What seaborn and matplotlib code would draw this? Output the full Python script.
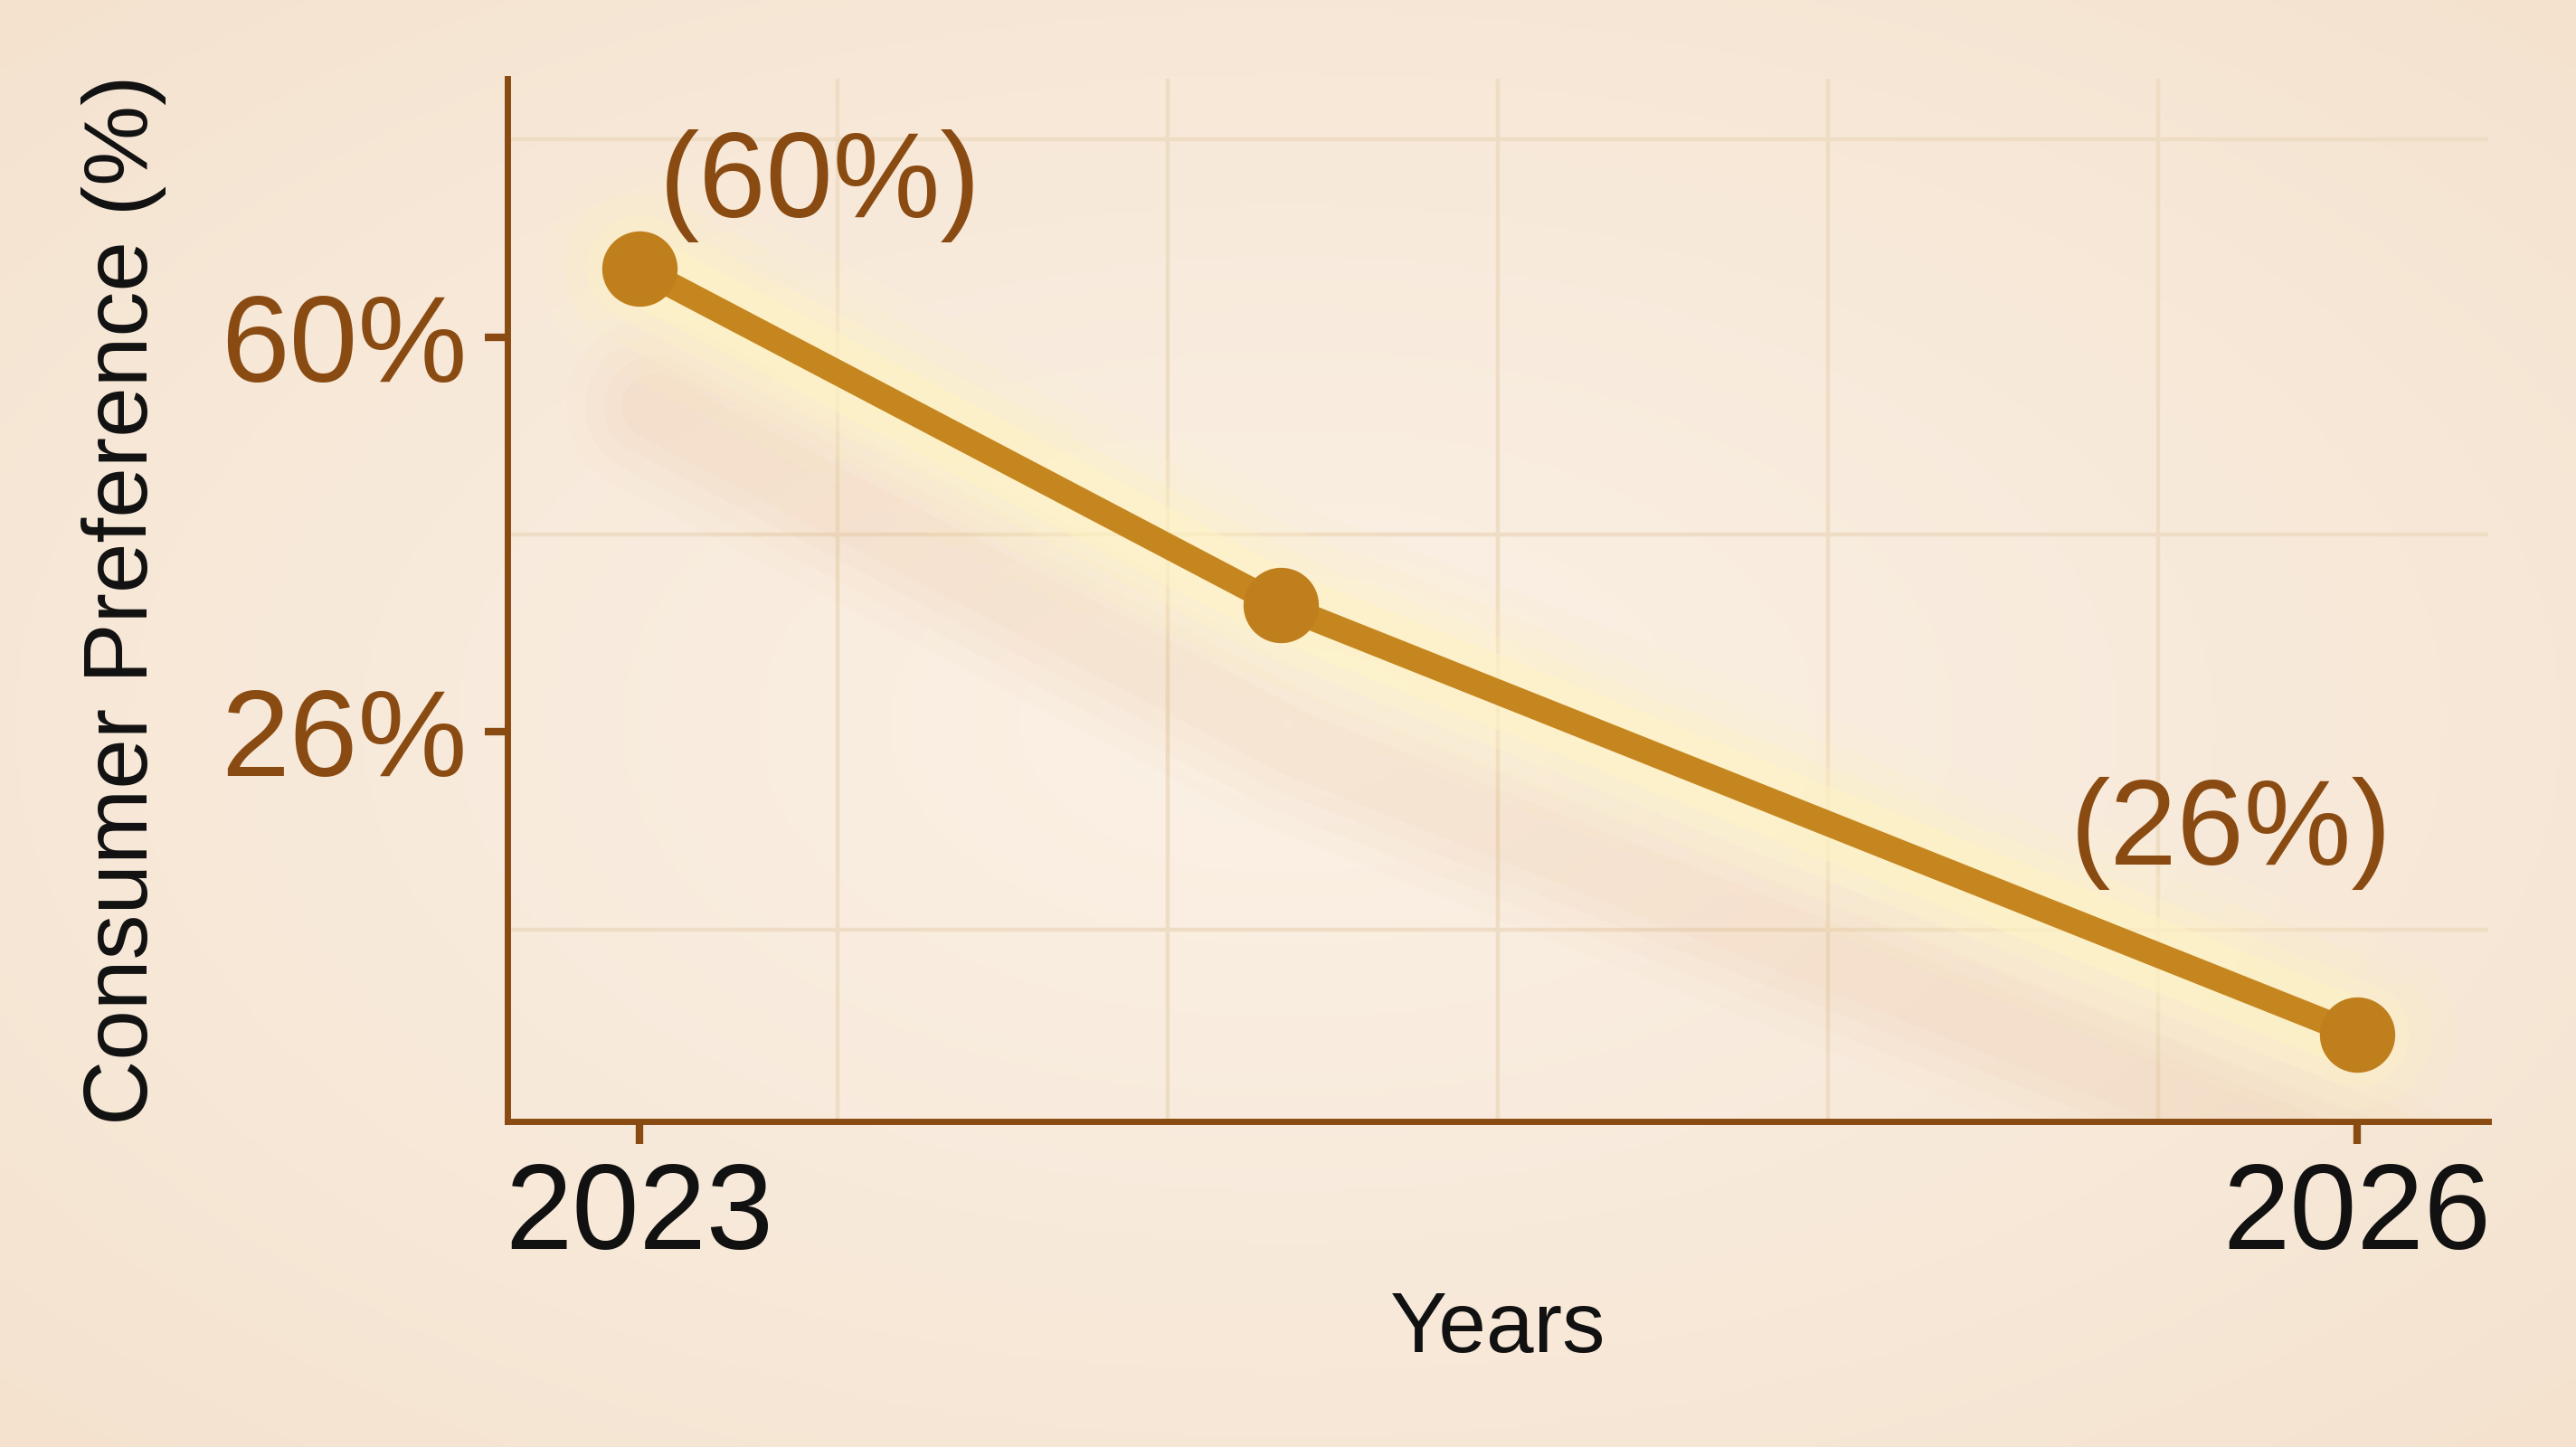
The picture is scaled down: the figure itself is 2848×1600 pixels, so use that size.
import numpy as np
import matplotlib
matplotlib.use("Agg")
import matplotlib.pyplot as plt
from matplotlib import transforms
from matplotlib.colors import LinearSegmentedColormap
import seaborn as sns

# values read against the drawn axis
years = [2023, 2024.12, 2026]
preference = [65.9, 36.9, 0.0]
point_labels = ["(60%)", "", "(26%)"]

ytick_values = [26, 60]
ytick_labels = ["26%", "60%"]
xtick_values = [2023, 2026]
xtick_labels = ["2023", "2026"]
grid_y = [9, 26, 43, 60, 77]

BROWN = "#8A4B12"
GOLD = "#C6861F"
GLOW = "#FFF4C2"
SHADOW = "#E9A86A"

sns.set_theme(style="white")
plt.rcParams["font.family"] = ["Liberation Sans", "DejaVu Sans"]

fig = plt.figure(figsize=(14.24, 8), dpi=200)

# warm paper background, lighter in the middle
bg = fig.add_axes([0, 0, 1, 1], zorder=-10)
yy, xx = np.mgrid[0:1:300j, 0:1:500j]
r = np.sqrt(((xx - 0.5) / 0.8) ** 2 + ((yy - 0.5) / 0.8) ** 2)
paper = LinearSegmentedColormap.from_list("paper", ["#FBF1E5", "#F8EADB", "#F4E2CE"])
bg.imshow(r, cmap=paper, aspect="auto", extent=[0, 1, 0, 1], vmin=0, vmax=0.9)
bg.axis("off")

ax = fig.add_axes([0.197, 0.225, 0.769, 0.7205])
ax.set_facecolor("none")
ax.set_xlim(2022.77, 2026.23)
ax.set_ylim(-7.5, 82.2)

# grid: horizontal at fixed values, vertical splitting the x range in six
ax.set_yticks(grid_y, minor=True)
ax.set_xticks(np.linspace(2022.77, 2026.23, 7)[1:-1], minor=True)
ax.grid(which="minor", color="#EFDCC4", lw=1.6, zorder=0)
ax.grid(which="major", visible=False)
ax.tick_params(which="minor", length=0)

# soft shadow under the line
shadow_tr = transforms.offset_copy(ax.transData, fig=fig, x=6, y=-55, units="points")
for w, a in [(70, 0.025), (55, 0.03), (40, 0.035), (26, 0.04)]:
    ax.plot(years, preference, color=SHADOW, lw=w, alpha=a,
            solid_capstyle="round", transform=shadow_tr, zorder=1)

# glow around the line
for w, a in [(80, 0.10), (60, 0.16), (42, 0.25), (28, 0.45)]:
    ax.plot(years, preference, color=GLOW, lw=w, alpha=a,
            solid_capstyle="round", zorder=2)

sns.lineplot(x=years, y=preference, ax=ax, color=GOLD, lw=10, marker="o",
             markersize=30, markeredgewidth=0, zorder=5)
ax.lines[-1].set_markerfacecolor("#C07F1D")

offsets = [(72, 33), (0, 0), (-50, 80)]
for x, y, lab, off in zip(years, preference, point_labels, offsets):
    if lab:
        ax.annotate(lab, (x, y), xytext=off, textcoords="offset points",
                    ha="center", va="center", fontsize=48, color=BROWN, zorder=6)

ax.set_yticks(ytick_values, ytick_labels)
ax.set_xticks(xtick_values, xtick_labels)
ax.tick_params(axis="y", which="major", labelsize=49, labelcolor=BROWN, color=BROWN,
               length=9, width=3, pad=7, left=True)
ax.tick_params(axis="x", which="major", labelsize=48, labelcolor="#111111", color=BROWN,
               length=9, width=3, pad=7, bottom=True)

for side in ["top", "right"]:
    ax.spines[side].set_visible(False)
for side in ["left", "bottom"]:
    ax.spines[side].set_color(BROWN)
    ax.spines[side].set_linewidth(2.5)

ax.set_xlabel("Years", fontsize=34, color="#111111")
ax.set_ylabel("Consumer Preference (%)", fontsize=36, color="#111111")
ax.xaxis.set_label_coords(0.5, -0.161)
ax.yaxis.set_label_coords(-0.172, 0.5)

fig.savefig("out.png", dpi=200)
